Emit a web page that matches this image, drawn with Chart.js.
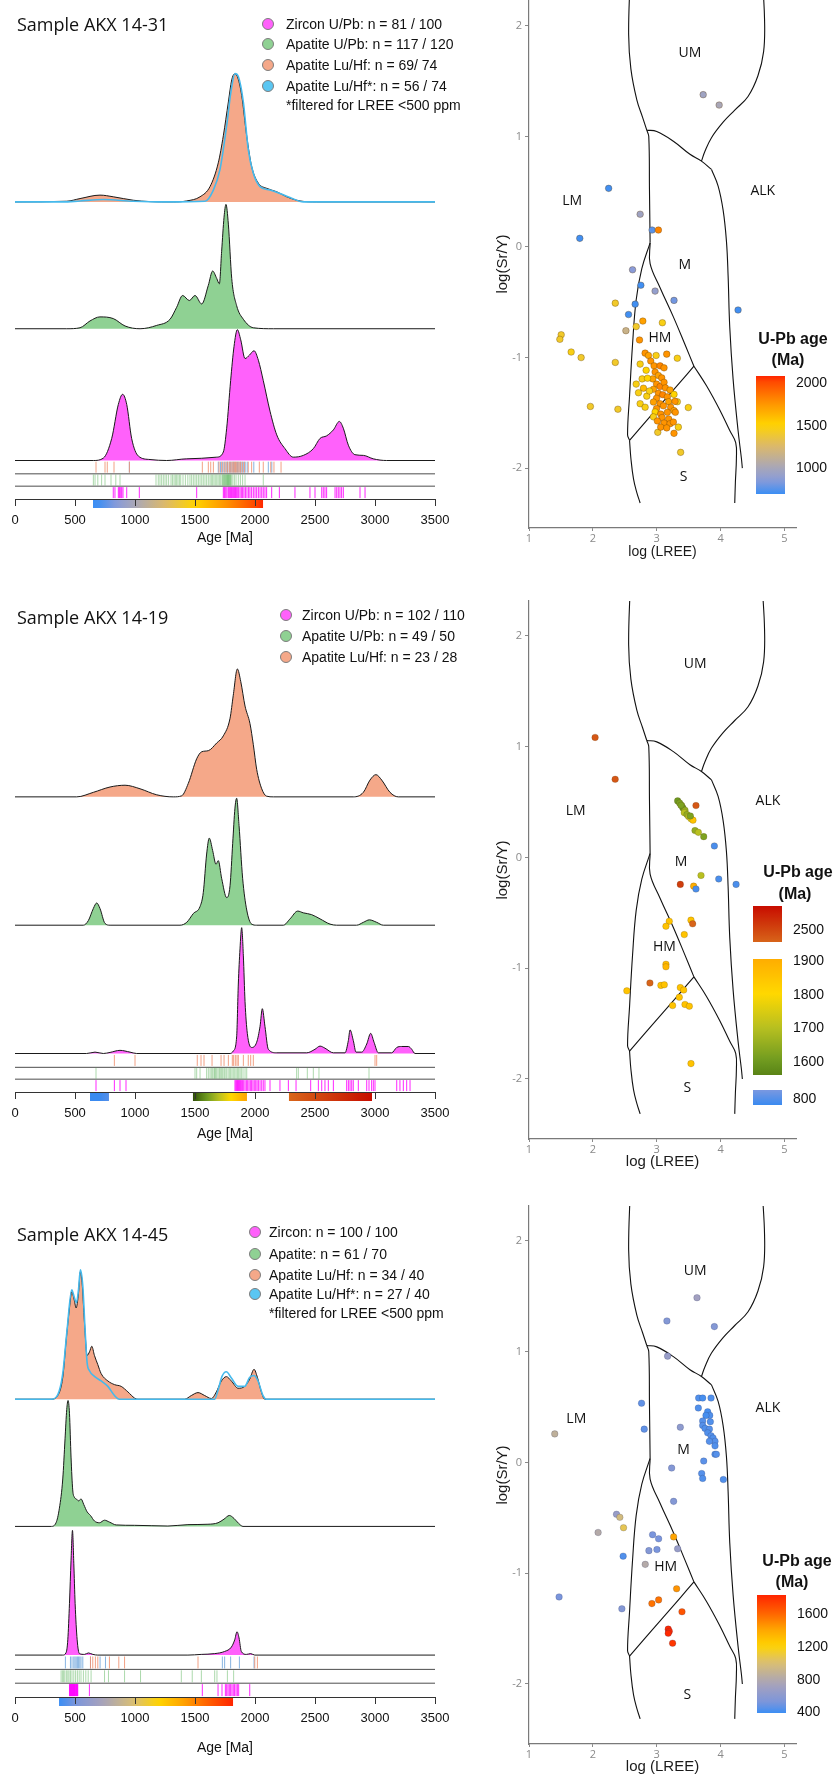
<!DOCTYPE html>
<html><head><meta charset="utf-8">
<script src="https://cdn.jsdelivr.net/npm/chart.js@4.4.1/dist/chart.umd.min.js"></script>
<style>
html,body{margin:0;padding:0;background:#fff}
body{position:relative;width:838px;height:1775px;overflow:hidden;font-family:"Liberation Sans",Arial,sans-serif;color:#111}
canvas{position:absolute;display:block}
.lbl{position:absolute;white-space:nowrap;line-height:1;transform:translateY(-50%)}
.ttl{font-family:"Open Sans",sans-serif;font-size:18px;color:#111}
.leg{font-size:14px;color:#111}
.dot{position:absolute;width:12px;height:12px;border-radius:50%;box-sizing:border-box;border:1px solid #7d7d7d;transform:translate(-50%,-50%)}
.cbt{position:absolute;font-weight:bold;font-size:16px;transform:translate(-50%,-50%);white-space:nowrap;line-height:1;color:#111}
.cbl{position:absolute;font-size:14px;white-space:nowrap;line-height:1;transform:translateY(-50%);color:#111}
.bar{position:absolute}
</style></head><body>
<script>
// ================= DATA =================
const AGE_TICKS = [0,500,1000,1500,2000,2500,3000,3500];
const LREE_TICKS = [1,2,3,4,5];
const SRY_TICKS = [-2,-1,0,1,2];
const FIELD_NAMES = ['UM','LM','ALK','M','HM','S'];

// ---- Sample AKX 14-31 : KDE curves (age Ma, relative density) ----
const p1LuAge = [0,431,542,708,819,986,1125,1319,1431,1542,1625,1694,1736,1778,1806,1828,1853,1889,1931,1972,2028,2097,2181,2264,2375,2514,3500];
const p1LuDen = [0,0.7,3.4,6.9,5.2,1.7,0.3,0,1,5.2,15.5,39.6,67,101.3,123.6,129.5,127,108,66.8,36,19,13.8,10.3,5.2,1,0,0];
const p1LuFAge = [0,400,542,736,986,1250,1583,1653,1708,1764,1800,1833,1861,1903,1944,1986,2042,2125,2208,2292,2403,3500];
const p1LuFDen = [0,0,1,2.4,0.7,0,0.7,12,32.7,77.5,112,130,127,101,53,29,15.5,12,8.6,4.5,0,0];
const p1ApAge = [0,431,542,625,708,819,917,1042,1181,1292,1347,1397,1453,1500,1556,1611,1647,1681,1703,1722,1742,1758,1778,1806,1847,1903,1986,2153,3500];
const p1ApDen = [0,0,1,7.9,12,10.3,2.8,0,3.4,9.6,21.7,33.7,28.6,33.7,25.1,44,58.5,51,45.5,78.5,113,126,106,51,23.4,9.6,1,0,0];
const p1ZrAge = [0,653,736,806,861,897,931,972,1028,1125,1264,1431,1681,1736,1764,1797,1825,1853,1881,1917,1953,1992,2028,2069,2125,2181,2250,2319,2403,2486,2542,2597,2653,2703,2736,2778,2833,2903,2986,3097,3500];
const p1ZrDen = [0,0,2.4,22.4,56.8,67.1,56.8,22.4,4.5,1,0,1.7,3.4,8.6,32.7,81,115.4,132.6,122.3,103.3,106.7,111.2,101.6,81,50,26,12,3.4,5.2,12,22.4,25,31,39.6,32.7,15.5,5.9,5.2,1.7,0,0];
// rug ages
const p1RugLu = [675,750,769,825,953,1561,1611,1631,1653,1700,1722,1741,1757,1772,1786,1798,1809,1818,1828,1838,1848,1858,1868,1880,1895,1912,1944,1972,2036,2069,2131,2158,2217];
const p1RugLuF = [953,1694,1712,1728,1744,1760,1772,1785,1797,1808,1820,1832,1843,1855,1866,1878,1890,1903,1918,1935,1990,2111,2140];
const p1RugAp = [653,667,690,722,750,800,840,875,1175,1194,1208,1222,1236,1250,1264,1280,1300,1312,1325,1336,1347,1358,1370,1381,1400,1420,1440,1458,1472,1486,1500,1514,1528,1542,1556,1569,1583,1597,1611,1625,1636,1647,1658,1669,1681,1692,1703,1714,1725,1731,1736,1742,1747,1753,1758,1764,1767,1772,1775,1780,1783,1789,1792,1797,1803,1815,1828,1842,1861,1878,1897,1917,2069];
const p1RugZr = [819,833,861,869,875,883,890,900,931,1036,1514,1736,1744,1750,1758,1767,1778,1786,1794,1800,1806,1814,1822,1830,1838,1847,1856,1864,1875,1886,1897,1908,1920,1933,1947,1958,1972,1986,2000,2014,2028,2042,2056,2069,2083,2097,2139,2203,2333,2458,2500,2556,2569,2583,2597,2667,2681,2694,2708,2722,2736,2875,2917];
// scatter: log(LREE), log(Sr/Y), U-Pb age
const p1X = [3.727,3.977,2.247,2.740,1.795,2.927,3.026,2.621,2.751,2.974,3.270,2.662,2.558,4.273,2.351,2.517,2.678,2.782,2.730,3.088,1.504,1.483,1.660,1.816,2.351,1.961,2.392,3.494,3.374,3.016,3.270,
 2.818,2.870,2.990,3.156,3.322,2.740,2.906,2.958,3.052,3.114,2.834,2.974,3.026,3.078,2.938,2.771,2.855,2.997,3.052,3.114,2.678,2.792,2.948,3.135,3.208,3.026,3.094,3.166,2.714,2.844,2.997,3.270,2.948,3.052,3.187,2.740,2.818,2.997,3.104,3.218,3.270,2.974,3.062,3.166,3.322,2.948,3.083,3.187,3.291,3.010,3.114,3.208,3.062,3.156,3.338,3.260,2.886,3.286];
const p1Y = [1.377,1.283,0.530,0.296,0.078,0.153,0.153,-0.206,-0.346,-0.399,-0.483,-0.517,-0.611,-0.570,-0.508,-0.757,-0.720,-0.670,-0.841,-0.685,-0.794,-0.835,-0.950,-1.000,-1.044,-1.442,-1.467,-1.452,-1.857,-1.676,-1.685,
 -0.960,-0.981,-0.981,-0.969,-1.006,-1.059,-1.031,-1.075,-1.075,-1.093,-1.115,-1.131,-1.162,-1.184,-1.193,-1.193,-1.187,-1.240,-1.262,-1.224,-1.240,-1.277,-1.287,-1.274,-1.293,-1.324,-1.336,-1.355,-1.318,-1.349,-1.368,-1.333,-1.402,-1.417,-1.399,-1.417,-1.449,-1.461,-1.436,-1.449,-1.480,-1.492,-1.511,-1.495,-1.399,-1.536,-1.542,-1.555,-1.495,-1.573,-1.592,-1.598,-1.629,-1.636,-1.629,-1.583,-1.302,-1.396];
const p1Age = [950,1000,700,950,700,750,1800,850,700,900,800,700,700,700,1400,1150,1400,1700,1750,1450,1400,1400,1450,1400,1400,1400,1400,1450,1400,1400,1750,
 1750,1700,1450,1750,1450,1450,1750,1750,1800,1750,1500,1750,1700,1750,1700,1450,1500,1750,1800,1750,1450,1600,1700,1750,1700,1750,1800,1750,1450,1450,1750,1500,1700,1750,1700,1450,1450,1750,1750,1750,1700,1500,1750,1750,1450,1450,1750,1750,1750,1750,1750,1750,1750,1750,1450,1750,1450,1750];
const p1LabX = [3.52,1.675,4.66,3.44,3.05,3.42];
const p1LabY = [1.75,0.42,0.51,-0.16,-0.82,-2.08];

// ---- Sample AKX 14-19 ----
const p2LuAge = [0,514,653,792,917,1042,1181,1319,1389,1444,1514,1556,1611,1681,1736,1792,1819,1853,1881,1917,1958,1986,2014,2056,2097,2153,2819,2903,2958,3008,3056,3125,3194,3500];
const p2LuDen = [0,0,4.6,10,11.8,8.2,2.1,0,1.1,13.6,38.6,45.7,46.8,54.6,61.8,79.6,103,129.6,117,92,74.3,52.9,27.9,8.2,0.7,0,0,4.6,17,22.5,17,4.6,0,0];
const p2ApAge = [0,569,611,653,681,708,750,792,1375,1431,1486,1542,1569,1597,1619,1647,1675,1694,1722,1764,1792,1814,1833,1847,1867,1897,1931,1972,2014,2236,2292,2356,2403,2472,2542,2625,2681,2847,2903,2953,3014,3069,3500];
const p2ApDen = [0,0,4.6,17,22.5,17,1.8,0,0,2.9,11.8,18.9,33,72.1,88.2,75.7,61.8,65.4,47.5,27.9,40,82.9,118.6,128.6,101,47.5,15.4,1.1,0,0,6.4,14.3,12.5,10.7,6.4,1.1,0,0,2.9,5.4,2.9,0,0];
const p2ZrAge = [0,597,667,736,792,875,958,1014,1792,1819,1847,1861,1875,1889,1903,1917,1936,1972,2014,2042,2061,2083,2111,2181,2431,2500,2542,2583,2653,2750,2778,2792,2819,2842,2889,2931,2964,2992,3028,3139,3181,3222,3278,3306,3333,3500];
const p2ZrDen = [0,0,1.4,0,1.1,3.2,1.4,0,0,2.5,16.8,70.4,106,127.5,98.9,52.5,20.4,6.1,11.4,27.5,45.4,27.5,4.3,0.7,0.7,4.3,7.5,5.4,0.7,0.7,13.2,23.9,13.2,1.4,1.4,9.6,20.4,11.4,0.7,0.7,6.1,7.1,7.1,4.3,0,0];
const p2RugLu = [828,1000,1519,1550,1575,1642,1717,1742,1778,1811,1822,1836,1850,1861,1903,1944,1964,1986,3000,3014];
const p2RugAp = [675,1500,1514,1542,1597,1611,1625,1636,1647,1658,1664,1672,1681,1692,1703,1711,1722,1731,1742,1750,1761,1775,1786,1797,1808,1819,1831,1842,1853,1864,1875,1886,1900,1917,1931,2347,2361,2436,2486,2533,2950];
const p2RugZr = [675,828,875,925,1833,1840,1847,1853,1858,1864,1869,1875,1881,1889,1897,1906,1917,1928,1939,1950,1961,1972,1983,1994,2006,2017,2028,2042,2056,2069,2083,2125,2208,2278,2342,2464,2528,2556,2583,2611,2653,2764,2778,2792,2806,2819,2861,2931,2950,2972,2986,3000,3181,3208,3236,3264,3292];
const p2X = [2.035,2.349,3.327,3.358,3.390,3.410,3.442,3.431,3.473,3.499,3.536,3.567,3.526,3.379,3.614,3.599,3.651,3.735,3.902,3.693,3.970,4.242,3.369,3.578,3.614,3.196,3.144,3.536,3.562,3.431,3.144,3.144,2.893,3.065,3.118,2.532,3.369,3.421,3.353,3.248,3.442,3.510,3.536];
const p2Y = [1.084,0.706,0.511,0.492,0.469,0.447,0.427,0.405,0.388,0.369,0.350,0.337,0.375,0.472,0.469,0.243,0.227,0.188,0.104,-0.162,-0.194,-0.243,-0.243,-0.259,-0.285,-0.576,-0.621,-0.566,-0.599,-0.696,-0.964,-0.987,-1.133,-1.155,-1.149,-1.204,-1.175,-1.197,-1.262,-1.337,-1.327,-1.343,-1.861];
const p2Age = [2400,2400,1600,1620,1640,1600,1650,1700,1650,1700,1750,1850,1620,1620,2400,1650,1700,1620,750,1700,750,750,2600,1900,750,1850,1850,1850,2300,1850,1870,1880,2300,1850,1850,1850,1850,1850,1850,1850,1850,1850,1850];
const p2LabX = [3.60,1.73,4.74,3.38,3.12,3.48];
const p2LabY = [1.75,0.42,0.51,-0.04,-0.81,-2.08];

// ---- Sample AKX 14-45 ----
const p3LuAge = [0,301,356,398,426,454,473,495,509,529,545,559,579,601,621,640,662,690,718,774,829,885,941,997,1024,1414,1469,1525,1581,1636,1678,1720,1761,1803,1859,1914,1956,1992,2020,2053,2081,3500];
const p3LuDen = [0,0,3.7,22.2,59.2,92.5,109,99.9,92.5,107.3,129.5,118.4,77.7,44.4,48.1,53.7,44.4,35.1,25.9,18.5,14.8,13,7.4,1.1,0,0,3.7,6.7,3.7,0.7,7.4,18.5,22.9,18.5,11.1,13,20.4,30.3,22.2,7.4,0,0];
const p3LuFAge = [0,301,356,398,434,473,495,512,529,545,565,584,601,621,662,718,774,829,870,1414,1664,1692,1725,1761,1803,1859,1914,1956,1992,2025,2067,2095,3500];
const p3LuFDen = [0,0,4.4,25.9,70.3,111,102.9,98,111,131.3,114.7,70.3,37,28.9,23.1,18.5,13,3.7,0,0,0,9.2,23.1,27.8,21.5,13,13,22.2,24,18.5,3.7,0,0];
const p3ApAge = [0,301,342,370,398,417,431,442,454,467,481,495,512,529,551,573,601,629,662,704,746,787,843,996,1274,1441,1608,1692,1742,1786,1825,1864,1900,3500];
const p3ApDen = [0,0,3.7,18.5,48.1,88.8,118.4,127.7,114.7,70.3,37,29.6,27.8,25.9,27.8,22.2,14.8,11.1,5.5,3.7,6.3,4.4,1.5,1.1,0.4,1.8,2.2,3.7,7.4,11.1,8.1,3,0,0];
const p3ZrAge = [0,398,426,440,454,467,479,490,501,518,537,579,612,649,690,1441,1552,1664,1747,1803,1831,1850,1867,1886,1928,1964,1998,3500];
const p3ZrDen = [0,0,2.6,15.5,52.5,96.2,126.5,93.2,52.5,15.5,1.5,0.7,2.2,0.7,0,0,0.7,1.5,3.7,8.1,15.5,23.7,17.4,3.7,0.7,1.5,0,0];
const p3RugLu = [629,648,670,690,787,865,913,1525,1998,2020];
const p3RugLuF = [420,462,475,490,500,510,520,530,540,550,565,629,709,754,1728,1747,1797,1870,1992];
const p3RugAp = [384,395,405,415,428,440,450,462,475,490,505,520,535,550,570,590,610,634,746,779,913,1046,1386,1477,1553,1664,1683,1770,1822];
const p3RugZr = [454,457,460,463,466,469,472,475,478,481,484,487,490,493,496,499,502,506,510,513,517,520,523,620,1561,1692,1725,1753,1764,1775,1786,1797,1808,1819,1830,1842,1853,1864,1956];
const p3X = [3.630,3.159,3.902,3.170,2.762,2.804,1.403,3.369,3.656,3.719,3.850,3.651,3.797,3.829,3.771,3.719,3.839,3.719,3.756,3.824,3.797,3.850,3.881,3.912,3.912,3.824,3.912,3.933,3.735,3.233,3.703,3.719,4.043,3.264,2.370,2.422,2.480,2.082,2.935,3.029,3.264,3.327,2.877,3.003,2.474,2.820,3.311,1.471,3.029,2.924,2.454,3.395,3.180,3.196,3.180,3.248];
const p3Y = [1.488,1.278,1.227,0.960,0.535,0.301,0.258,0.318,0.582,0.582,0.582,0.492,0.458,0.425,0.425,0.375,0.368,0.334,0.308,0.301,0.268,0.241,0.221,0.191,0.150,0.191,0.074,0.074,0.013,-0.050,-0.100,-0.144,-0.154,-0.351,-0.468,-0.495,-0.589,-0.632,-0.652,-0.689,-0.672,-0.779,-0.796,-0.786,-0.846,-0.920,-1.140,-1.214,-1.241,-1.274,-1.321,-1.348,-1.505,-1.525,-1.542,-1.632];
const p3Age = [700,550,550,650,450,450,850,600,420,400,420,420,400,420,400,430,420,430,420,430,420,430,420,430,420,430,420,430,440,550,430,420,420,550,650,950,1050,800,500,500,1400,650,550,500,420,800,1450,500,1550,1550,550,1650,1800,1800,1800,1750];
const p3LabX = [3.60,1.74,4.74,3.42,3.14,3.48];
const p3LabY = [1.73,0.39,0.49,0.11,-0.94,-2.10];

// ---- Field boundaries of the log(Sr/Y) vs log(LREE) diagram ----
const bUMLeft   = [[2.584,2.45],[2.56,1.92],[2.595,1.61],[2.688,1.33],[2.777,1.174],[2.844,1.056]];
const bColumn   = [[2.844,1.056],[2.875,1.0],[2.886,0.52],[2.896,0.037]];
const bMTop     = [[2.844,1.056],[3.0,1.044],[3.26,0.956],[3.52,0.838],[3.70,0.776],[3.857,0.701]];
const bUMRight  = [[4.652,2.45],[4.688,2.05],[4.673,1.766],[4.584,1.548],[4.429,1.361],[4.221,1.237],[4.039,1.128],[3.857,0.988],[3.753,0.863],[3.70,0.776]];
const bMRight   = [[3.857,0.701],[3.961,0.551],[4.039,0.333],[4.091,0.053],[4.117,-0.259],[4.143,-0.726],[4.195,-1.193],[4.273,-1.66],[4.325,-1.91],[4.34,-2.0]];
const bHMLeft   = [[2.896,0.037],[2.766,-0.196],[2.678,-0.477],[2.621,-0.882],[2.574,-1.349],[2.543,-1.698],[2.574,-1.748]];
const bHMM      = [[2.896,0.037],[2.896,-0.15],[3.052,-0.368],[3.26,-0.632],[3.442,-0.882],[3.582,-1.078]];
const bHMS      = [[2.574,-1.748],[2.844,-1.567],[3.104,-1.396],[3.364,-1.224],[3.582,-1.078]];
const bSLeft    = [[2.574,-1.748],[2.595,-1.91],[2.636,-2.097],[2.688,-2.221],[2.74,-2.315]];
const bSRight   = [[3.582,-1.078],[3.779,-1.255],[3.987,-1.474],[4.143,-1.66],[4.236,-1.769],[4.247,-1.91],[4.231,-2.128],[4.221,-2.315]];
const BOUNDS = [bUMLeft,bColumn,bMTop,bUMRight,bMRight,bHMLeft,bHMM,bHMS,bSLeft,bSRight];

// ---- Age colour scales [age, colour] ----
const p1Scale = [[687,'#3b8ef4'],[850,'#8a9bd8'],[1000,'#a9a7b7'],[1250,'#dcb96a'],[1500,'#ffd400'],[1750,'#ff9400'],[2000,'#ff4a00'],[2070,'#ff2400']];
const p2Scale = [[700,'#3a8af0'],[900,'#7a98e0'],[1480,'#2c4a08'],[1550,'#557e14'],[1600,'#6e9a20'],[1700,'#b8c020'],[1800,'#ffd800'],[1900,'#ffae00'],[2300,'#d8641a'],[2500,'#d24a10'],[2975,'#c80c00']];
const p3Scale = [[376,'#3b8ef4'],[500,'#7a95dc'],[700,'#a2a0c0'],[800,'#b4aaa8'],[1000,'#dcc070'],[1200,'#ffd400'],[1400,'#ffa400'],[1600,'#ff6200'],[1818,'#ff2400']];
// age ranges of the colour bars under the age axes
const p1BarRanges = [[650,2067]];
const p2BarRanges = [[625,783],[1483,1933],[2283,2975]];
const p3BarRanges = [[367,1817]];

// ================= STYLE / HELPERS =================
const ZR_FILL='#ff61fb', AP_FILL='#8fd193', LU_FILL='#f5a889', LUF_LINE='#45b9ec';
const RUG_ZR='rgba(255,0,255,0.85)', RUG_AP='rgba(70,170,70,0.45)', RUG_LU='rgba(240,145,112,0.85)', RUG_LUF='rgba(95,155,215,0.75)';
const SANS='"Liberation Sans", Arial, sans-serif';

function hex(c){return [parseInt(c.slice(1,3),16),parseInt(c.slice(3,5),16),parseInt(c.slice(5,7),16)];}
function cmap(stops,a){
  if(a<=stops[0][0]) return stops[0][1];
  for(let i=1;i<stops.length;i++){
    if(a<=stops[i][0]){
      const t=(a-stops[i-1][0])/(stops[i][0]-stops[i-1][0]);
      const c0=hex(stops[i-1][1]), c1=hex(stops[i][1]);
      return 'rgb('+c0.map((v,k)=>Math.round(v+(c1[k]-v)*t)).join(',')+')';
    }
  }
  return stops[stops.length-1][1];
}
function addCanvas(left,top,w,h){
  const c=document.createElement('canvas');
  c.width=w;c.height=h;c.style.left=left+'px';c.style.top=top+'px';c.style.width=w+'px';c.style.height=h+'px';
  document.body.appendChild(c);return c;
}
function addDiv(cls,x,y,text,extra){
  const d=document.createElement('div');d.className=cls;d.style.left=x+'px';d.style.top=y+'px';
  if(text!==null) d.textContent=text;
  if(extra) Object.assign(d.style,extra);
  document.body.appendChild(d);return d;
}
function ageBarPlugin(ranges,stops){
  return {id:'ageBar',beforeDraw(chart){
    const {ctx,chartArea,scales}=chart; const xs=scales.x;
    ctx.save();
    ranges.forEach(([a0,a1])=>{
      const x0=xs.getPixelForValue(a0), x1=xs.getPixelForValue(a1);
      const g=ctx.createLinearGradient(x0,0,x1,0);
      for(let i=0;i<=24;i++){const a=a0+(a1-a0)*i/24; g.addColorStop(i/24,cmap(stops,a));}
      ctx.fillStyle=g; ctx.fillRect(x0,chartArea.bottom,x1-x0,9);
    });
    ctx.restore();
  }};
}
function fieldLabelPlugin(lx,ly){
  return {id:'fieldLabels',afterDatasetsDraw(chart){
    const {ctx,scales:{x,y}}=chart;
    ctx.save();ctx.font='14px "Open Sans", sans-serif';ctx.fillStyle='#111';ctx.textAlign='center';ctx.textBaseline='middle';
    FIELD_NAMES.forEach((n,i)=>ctx.fillText(n,x.getPixelForValue(lx[i]),y.getPixelForValue(ly[i])));
    ctx.restore();
  }};
}

function kdeChart(o){
  const c=addCanvas(0,o.top,470,o.h);
  const ds=[];
  o.seps.forEach(y=>ds.push({data:[{x:0,y:y},{x:3500,y:y}],borderColor:'#4d4d4d',borderWidth:1,pointRadius:0,fill:false,order:20}));
  o.rugs.forEach(r=>ds.push({data:r.ages.map(a=>({x:a,y:r.y})),showLine:false,pointStyle:'line',pointRotation:90,pointRadius:o.half,pointHoverRadius:o.half,pointBorderColor:r.color,pointBackgroundColor:r.color,pointBorderWidth:1,order:15}));
  o.ridges.forEach((r,i)=>ds.push({data:r.ages.map((a,j)=>({x:a,y:r.base+r.dens[j]})),borderColor:'#1a1a1a',borderWidth:1,backgroundColor:r.fill,fill:{value:r.base},pointRadius:0,cubicInterpolationMode:'monotone',order:12-i}));
  if(o.filt) ds.push({data:o.filt.ages.map((a,j)=>({x:a,y:o.filt.base+o.filt.dens[j]})),borderColor:LUF_LINE,borderWidth:1.6,fill:false,pointRadius:0,cubicInterpolationMode:'monotone',order:1});
  new Chart(c,{type:'line',data:{datasets:ds},
    options:{responsive:false,animation:false,devicePixelRatio:1,events:[],
      layout:{padding:{left:15,right:35,top:0,bottom:0}},
      plugins:{legend:{display:false},tooltip:{enabled:false}},
      scales:{
        x:{type:'linear',min:0,max:3500,
          afterBuildTicks:s=>{s.ticks=AGE_TICKS.map(v=>({value:v}));},
          afterFit:s=>{s.height=o.xh;},
          grid:{drawOnChartArea:false,drawTicks:true,tickLength:7,color:'#333',lineWidth:1},
          border:{display:true,color:'#333',width:1},
          ticks:{color:'#111',font:{family:SANS,size:13},padding:7,maxRotation:0,autoSkip:false,callback:v=>String(v)},
          title:{display:true,text:'Age [Ma]',color:'#111',font:{family:SANS,size:14},padding:0}},
        y:{type:'linear',display:false,min:0,max:o.ymax}
      }},
    plugins:[ageBarPlugin(o.bar,o.scale)]});
}

function scatterChart(o){
  const c=addCanvas(470,o.top,368,o.h);
  const ds=BOUNDS.map(b=>({data:b.map(p=>({x:p[0],y:p[1]})),borderColor:'#111',borderWidth:1.1,pointRadius:0,fill:false,tension:0.4,order:5}));
  ds.push({data:o.x.map((v,i)=>({x:v,y:o.y[i]})),showLine:false,pointRadius:3.3,
    pointBackgroundColor:o.age.map(a=>cmap(o.scale,a)),pointBorderColor:o.border,pointBorderWidth:0.6,order:1});
  new Chart(c,{type:'line',data:{datasets:ds},
    options:{responsive:false,animation:false,devicePixelRatio:1,events:[],
      layout:{padding:{left:24,right:42,top:o.padTop,bottom:0}},
      plugins:{legend:{display:false},tooltip:{enabled:false}},
      scales:{
        x:{type:'linear',min:1,max:5.18,
          afterBuildTicks:s=>{s.ticks=LREE_TICKS.map(v=>({value:v}));},
          afterFit:s=>{s.height=o.xh;},
          grid:{drawOnChartArea:false,drawTicks:true,tickLength:3,color:'#8a8a8a'},
          border:{display:true,color:'#7a7a7a',width:1.2},
          ticks:{color:'#8a8a8a',font:{family:'"Open Sans", sans-serif',size:11},padding:1,maxRotation:0,autoSkip:false},
          title:{display:true,text:'log (LREE)',color:'#1a1a1a',font:{family:SANS,size:o.xtSize},padding:0}},
        y:{type:'linear',min:o.ymin,max:o.ymax,
          afterBuildTicks:s=>{s.ticks=SRY_TICKS.map(v=>({value:v}));},
          afterFit:s=>{s.width=35;},
          grid:{drawOnChartArea:false,drawTicks:true,tickLength:4,color:'#8a8a8a'},
          border:{display:true,color:'#7a7a7a',width:1.2},
          ticks:{color:'#8a8a8a',font:{family:'"Open Sans", sans-serif',size:11},padding:3,autoSkip:false},
          title:{display:true,text:'log(Sr/Y)',color:'#1a1a1a',font:{family:SANS,size:15},padding:0}}
      }},
    plugins:[fieldLabelPlugin(o.labX,o.labY)]});
}

function legend(items,dx,tx,ys,foot,footY){
  items.forEach((it,i)=>{
    addDiv('dot',dx,ys[i],null,{background:it[1]});
    addDiv('lbl leg',tx,ys[i],it[0]);
  });
  if(foot) addDiv('lbl leg',tx,footY,foot);
}
function ageLegendBar(x,top,h,aTop,aBot,stops){
  const parts=[];
  for(let i=0;i<=20;i++){const a=aTop+(aBot-aTop)*i/20; parts.push(cmap(stops,a)+' '+(i*5)+'%');}
  addDiv('bar',x,top,null,{width:'29px',height:h+'px',background:'linear-gradient(to bottom,'+parts.join(',')+')'});
}

// ================= BUILD =================
// Panel 1 : AKX 14-31
kdeChart({top:0,h:547,ymax:499,xh:48,half:5.5,seps:[25.5,13],bar:p1BarRanges,scale:p1Scale,
  ridges:[{ages:p1LuAge,dens:p1LuDen,base:301,fill:LU_FILL},{ages:p1ApAge,dens:p1ApDen,base:172.5,fill:AP_FILL},{ages:p1ZrAge,dens:p1ZrDen,base:39,fill:ZR_FILL}],
  filt:{ages:p1LuFAge,dens:p1LuFDen,base:301},
  rugs:[{ages:p1RugLu,y:32.25,color:RUG_LU},{ages:p1RugLuF,y:32.25,color:RUG_LUF},{ages:p1RugAp,y:19.25,color:RUG_AP},{ages:p1RugZr,y:6.5,color:RUG_ZR}]});
scatterChart({top:-11,h:572,padTop:11,xh:33,xtSize:14,ymin:-2.541,ymax:2.233,x:p1X,y:p1Y,age:p1Age,scale:p1Scale,border:'rgba(90,55,10,0.55)',labX:p1LabX,labY:p1LabY});

// Panel 2 : AKX 14-19
kdeChart({top:590,h:553,ymax:502,xh:51,half:5.5,seps:[25,13],bar:p2BarRanges,scale:p2Scale,
  ridges:[{ages:p2LuAge,dens:p2LuDen,base:299,fill:LU_FILL},{ages:p2ApAge,dens:p2ApDen,base:169,fill:AP_FILL},{ages:p2ZrAge,dens:p2ZrDen,base:39,fill:ZR_FILL}],
  rugs:[{ages:p2RugLu,y:32,color:RUG_LU},{ages:p2RugAp,y:19,color:RUG_AP},{ages:p2RugZr,y:6.5,color:RUG_ZR}]});
scatterChart({top:590,h:581,padTop:11,xh:32,xtSize:15,ymin:-2.542,ymax:2.316,x:p2X,y:p2Y,age:p2Age,scale:p2Scale,border:'rgba(80,60,20,0.35)',labX:p2LabX,labY:p2LabY});

// Panel 3 : AKX 14-45
kdeChart({top:1195,h:562,ymax:502,xh:60,half:6,seps:[28,14],bar:p3BarRanges,scale:p3Scale,
  ridges:[{ages:p3LuAge,dens:p3LuDen,base:302,fill:LU_FILL},{ages:p3ApAge,dens:p3ApDen,base:173,fill:AP_FILL},{ages:p3ZrAge,dens:p3ZrDen,base:42.5,fill:ZR_FILL}],
  filt:{ages:p3LuFAge,dens:p3LuFDen,base:302},
  rugs:[{ages:p3RugLu,y:35,color:RUG_LU},{ages:p3RugLuF,y:35,color:RUG_LUF},{ages:p3RugAp,y:21,color:RUG_AP},{ages:p3RugZr,y:7,color:RUG_ZR}]});
scatterChart({top:1195,h:581,padTop:11,xh:32,xtSize:15,ymin:-2.542,ymax:2.316,x:p3X,y:p3Y,age:p3Age,scale:p3Scale,border:'rgba(40,50,90,0.35)',labX:p3LabX,labY:p3LabY});

// Titles and legends
addDiv('lbl ttl',17,24,'Sample AKX 14-31');
legend([['Zircon U/Pb: n = 81 / 100',ZR_FILL],['Apatite U/Pb: n = 117 / 120',AP_FILL],['Apatite Lu/Hf: n = 69/ 74',LU_FILL],['Apatite Lu/Hf*: n = 56 / 74','#5ac6f2']],268,286,[24,44,65,86],'*filtered for LREE <500 ppm',105);
addDiv('lbl ttl',17,617,'Sample AKX 14-19');
legend([['Zircon U/Pb: n = 102 / 110',ZR_FILL],['Apatite U/Pb: n = 49 / 50',AP_FILL],['Apatite Lu/Hf: n = 23 / 28',LU_FILL]],286,302,[615,636,657]);
addDiv('lbl ttl',17,1234,'Sample AKX 14-45');
legend([['Zircon: n = 100 / 100',ZR_FILL],['Apatite: n = 61 / 70',AP_FILL],['Apatite Lu/Hf: n = 34 / 40',LU_FILL],['Apatite Lu/Hf*: n = 27 / 40','#5ac6f2']],255,269,[1232,1253.5,1274.5,1294],'*filtered for LREE <500 ppm',1313);

// Age colour legends of the scatter panels
addDiv('cbt',793,339,'U-Pb age'); addDiv('cbt',788,360,'(Ma)');
ageLegendBar(756,376,118,2070,687,p1Scale);
[[2000,382],[1500,424.6],[1000,467.3]].forEach(([t,y])=>addDiv('cbl',796,y,String(t)));

addDiv('cbt',798,872,'U-Pb age'); addDiv('cbt',795,894,'(Ma)');
ageLegendBar(753,906,36,2975,2300,p2Scale);
ageLegendBar(753,959,116,1903,1559,p2Scale);
ageLegendBar(753,1090,15,900,700,p2Scale);
[[2500,929],[1900,960],[1800,994],[1700,1027],[1600,1061],[800,1098]].forEach(([t,y])=>addDiv('cbl',793,y,String(t)));

addDiv('cbt',797,1561,'U-Pb age'); addDiv('cbt',792,1582,'(Ma)');
ageLegendBar(757,1595,118,1818,376,p3Scale);
[[1600,1613],[1200,1646],[800,1679],[400,1711]].forEach(([t,y])=>addDiv('cbl',797,y,String(t)));
</script>
</body></html>
